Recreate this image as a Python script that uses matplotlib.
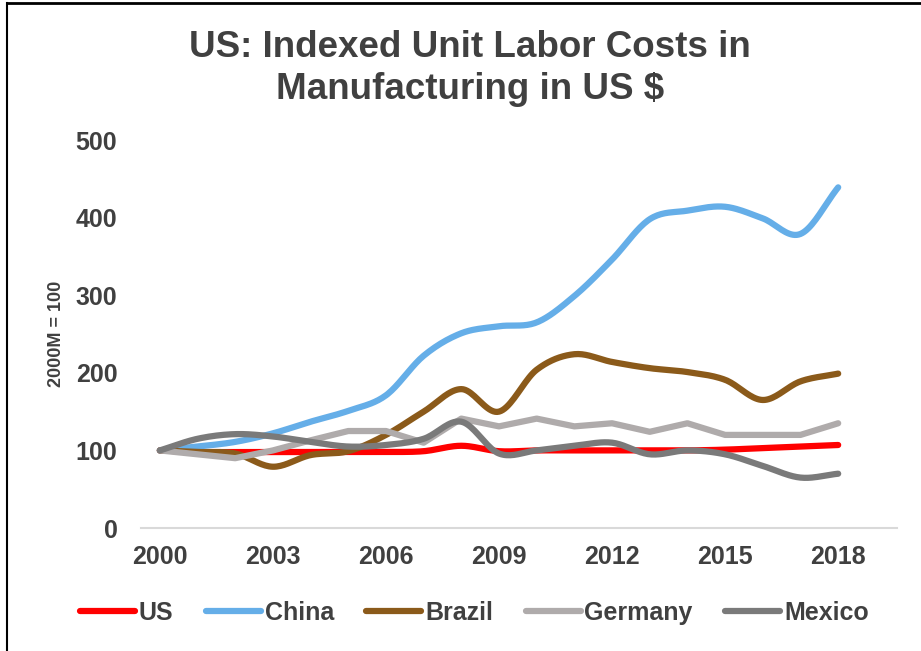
import numpy as np
import matplotlib
matplotlib.use('Agg')
import matplotlib.pyplot as plt
from matplotlib.lines import Line2D

years = list(range(2000, 2019))
us = [100, 98, 98, 98, 98, 98, 98, 99, 106, 99, 100, 100, 100, 100, 100, 101, 103, 105, 107]
china = [100, 105, 111, 122, 137, 151, 171, 222, 251, 260, 265, 299, 346, 398, 409, 414, 399, 379, 439]
brazil = [100, 98, 96, 79, 94, 99, 120, 150, 179, 150, 204, 224, 214, 206, 201, 191, 165, 189, 199]
germany = [100, 95, 90, 100, 113, 125, 125, 110, 141, 131, 141, 131, 135, 124, 135, 120, 120, 120, 135]
mexico = [100, 115, 121, 118, 111, 105, 107, 115, 137, 96, 100, 106, 110, 95, 100, 95, 80, 65, 70]

names = ['US', 'China', 'Brazil', 'Germany', 'Mexico']
series = [us, china, brazil, germany, mexico]
colors = ['#FF0000', '#65AEE8', '#8B5A1A', '#AFABAB', '#7A7A7A']
smooth = [True, True, True, False, True]

txt = '#404040'
plt.rcParams['font.family'] = ['Liberation Sans', 'DejaVu Sans']
plt.rcParams['font.weight'] = 'bold'
plt.rcParams['axes.labelweight'] = 'bold'


# catmull-rom to mimic excel smoothed lines
def smooth_line(x, y, n=20):
    x = np.asarray(x, float)
    y = np.asarray(y, float)
    px = np.concatenate([[2 * x[0] - x[1]], x, [2 * x[-1] - x[-2]]])
    py = np.concatenate([[2 * y[0] - y[1]], y, [2 * y[-1] - y[-2]]])
    xs, ys = [], []
    t = np.linspace(0, 1, n, endpoint=False)
    for i in range(1, len(px) - 2):
        for p, out in ((px, xs), (py, ys)):
            p0, p1, p2, p3 = p[i - 1], p[i], p[i + 1], p[i + 2]
            out.extend(0.5 * (2 * p1 + (-p0 + p2) * t
                              + (2 * p0 - 5 * p1 + 4 * p2 - p3) * t ** 2
                              + (-p0 + 3 * p1 - 3 * p2 + p3) * t ** 3))
    xs.append(x[-1])
    ys.append(y[-1])
    return xs, ys


fig = plt.figure(figsize=(9.21, 6.51), dpi=100)
ax = fig.add_axes([0.1531, 0.1889, 0.8208, 0.596])

for name, vals, c, sm in zip(names, series, colors, smooth):
    if sm:
        xs, ys = smooth_line(years, vals)
    else:
        xs, ys = years, vals
    ax.plot(xs, ys, color=c, lw=4.5, label=name, solid_capstyle='round',
            solid_joinstyle='round')

ax.set_xlim(1999.5, 2019.56)
ax.set_ylim(0, 500)
ax.set_xticks(years[::3])
ax.set_yticks([0, 100, 200, 300, 400, 500])
ax.tick_params(length=0, labelsize=18, labelcolor=txt)
ax.tick_params(axis='x', pad=12)
ax.tick_params(axis='y', pad=17)
for s in ['top', 'right', 'left']:
    ax.spines[s].set_visible(False)
ax.spines['bottom'].set_color('#D9D9D9')
ax.spines['bottom'].set_linewidth(1.5)
ax.set_ylabel('2000M = 100', fontsize=13, color=txt)
ax.yaxis.set_label_coords(-0.101, 0.5)

fig.text(0.51, 0.895, 'US: Indexed Unit Labor Costs in\nManufacturing in US $',
         ha='center', va='center', fontsize=26.5, color=txt, linespacing=1.25)

leg = fig.legend(loc='center', bbox_to_anchor=(0.515, 0.059), ncol=5, frameon=False,
                 fontsize=18, handlelength=2.2, handletextpad=0.15, columnspacing=1.3)
for t in leg.get_texts():
    t.set_color(txt)

# border of the original image
fig.add_artist(Line2D([0.0076, 0.0076], [0, 0.995], color='black', lw=1.5,
                      transform=fig.transFigure))
fig.add_artist(Line2D([0.0076, 1], [0.995, 0.995], color='black', lw=2,
                      transform=fig.transFigure))

fig.savefig('out.png', dpi=100)
